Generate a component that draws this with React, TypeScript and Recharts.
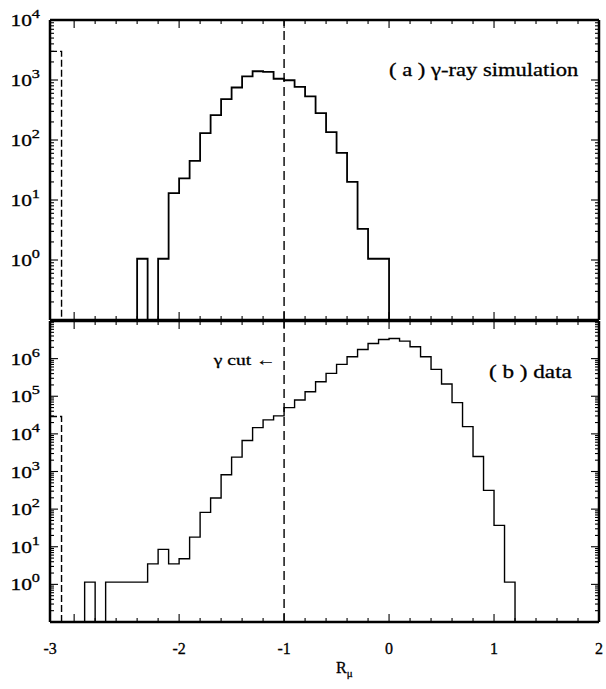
import React from 'react';
import { ComposedChart, Line, XAxis, YAxis, ReferenceLine } from 'recharts';

// ---------- data ----------
const BIN = 0.1;
const X_MIN = -3.23;
const X_MAX = 2;
const CUT = -1;
const OVERFLOW_EDGE = -3.12;

// (a) gamma-ray simulation: counts per 0.1 bin starting at simStart
const simStart = -2.4;
const simCounts = [1.05, 0, 1.05, 13, 23, 45, 130, 260, 480, 750, 1150, 1400, 1370, 1050, 990, 770, 535, 280, 135, 61, 20, 3.3, 1.05, 1.05];
const simUnderflow = 3000;

// (b) data: counts per 0.1 bin starting at dataStart
const dataStart = -2.9;
const dataCounts = [1.15, 0, 1.15, 1.15, 1.15, 1.15, 3.5, 8.5, 3.5, 4.8, 18, 82, 198, 820, 2410, 6650, 14700, 23500, 30000, 49800, 79500, 132000, 243000, 405000, 702000, 1120000, 1750000, 2520000, 3220000, 3430000, 2910000, 2060000, 1120000, 518000, 211000, 67600, 15600, 2500, 315, 37, 1.15];
const dataUnderflow = 29000;

// axes
const xMajorTicks = [-3, -2, -1, 0, 1, 2];
const xMinorSteps = [0.2, 0.4, 0.6, 0.8];
const topDecades = [0.1, 1, 10, 100, 1000, 10000];
const bottomDecades = [0.1, 1, 10, 100, 1000, 10000, 100000, 1000000, 10000000];
const minorMultiples = [2, 3, 4, 5, 6, 7, 8, 9];

const panelA = '( a ) γ-ray simulation';
const panelB = '( b ) data';
const cutLabel = 'γ cut ←';

// ---------- helpers ----------
const FLOOR = 0.1;
const FONT = '"Liberation Serif", "Times New Roman", serif';

function stepPoints(start: number, counts: number[]) {
  const pts = [{ x: start, y: FLOOR }];
  counts.forEach((c, i) => pts.push({ x: +(start + i * BIN).toFixed(2), y: c > 0 ? c : FLOOR }));
  pts.push({ x: +(start + counts.length * BIN).toFixed(2), y: FLOOR });
  return pts;
}
function underflowPoints(v: number) {
  return [
    { x: X_MIN, y: v },
    { x: OVERFLOW_EDGE, y: v },
    { x: OVERFLOW_EDGE, y: FLOOR },
  ];
}
function logTicks(decades: number[]) {
  const t: number[] = [];
  decades.forEach((d, i) => {
    t.push(d);
    if (i < decades.length - 1) minorMultiples.forEach((m) => t.push(+(d * m).toPrecision(6)));
  });
  return t;
}
const xTicks: number[] = [];
xMajorTicks.forEach((m, i) => {
  xTicks.push(m);
  if (i < xMajorTicks.length - 1) xMinorSteps.forEach((s) => xTicks.push(+(m + s).toFixed(2)));
});

const simPts = stepPoints(simStart, simCounts);
const dataPts = stepPoints(dataStart, dataCounts);
const simUnder = underflowPoints(simUnderflow);
const dataUnder = underflowPoints(dataUnderflow);

// ---------- tick components ----------
const XTick = (props: any) => {
  const { x, y, payload, side, showLabel } = props;
  const v = payload.value;
  const major = Math.abs(v - Math.round(v)) < 1e-6;
  const len = major ? 8 : 4;
  const dir = side === 'top' ? 1 : -1;
  return (
    <g>
      <line x1={x} y1={y} x2={x} y2={y + dir * len} stroke="#000" strokeWidth={1.1} />
      {showLabel && major && (
        <text
          x={x + (Math.round(v) === -3 ? -24 : 0)}
          y={y + 32}
          textAnchor="middle"
          fontFamily={FONT}
          fontSize={16}
          fill="#000"
          stroke="#000"
          strokeWidth={0.3}
        >
          {String(Math.round(v))}
        </text>
      )}
    </g>
  );
};

const YTick = (props: any) => {
  const { x, y, payload, side, labelMax } = props;
  const v = payload.value;
  const lg = Math.log10(v);
  const e = Math.round(lg);
  const major = Math.abs(lg - e) < 1e-6;
  const len = major ? 8 : 4;
  const dir = side === 'left' ? 1 : -1;
  const showLabel = side === 'left' && major && e >= 0 && e <= labelMax;
  return (
    <g>
      <line x1={x} y1={y} x2={x + dir * len} y2={y} stroke="#000" strokeWidth={1.1} />
      {showLabel && (
        <text
          transform={`translate(${x - 10},${y + 6}) scale(1.3,1)`}
          textAnchor="end"
          fontFamily={FONT}
          fontSize={16.5}
          fill="#000"
          stroke="#000"
          strokeWidth={0.3}
        >
          10
          <tspan dy={-8} fontSize={12.5}>
            {String(e)}
          </tspan>
        </text>
      )}
    </g>
  );
};

const axisStyle = { stroke: '#000', strokeWidth: 2.5 };

function Panel(props: {
  height: number;
  marginTop: number;
  bottomHeight: number;
  decades: number[];
  labelMax: number;
  pts: any[];
  under: any[];
  showXLabels: boolean;
  lineWidth: number;
}) {
  const yDomain = [props.decades[0], props.decades[props.decades.length - 1]];
  const yTicks = logTicks(props.decades);
  return (
    <ComposedChart
      width={606}
      height={props.height}
      margin={{ top: props.marginTop, right: 6, bottom: 0, left: 0 }}
    >
      <XAxis
        xAxisId="b"
        dataKey="x"
        type="number"
        orientation="bottom"
        domain={[X_MIN, X_MAX]}
        allowDataOverflow
        ticks={xTicks}
        interval={0}
        tickSize={0}
        tickMargin={0}
        tickLine={false}
        axisLine={axisStyle}
        height={props.bottomHeight}
        tick={<XTick side="bottom" showLabel={props.showXLabels} />}
      />
      <XAxis
        xAxisId="t"
        dataKey="x"
        type="number"
        orientation="top"
        domain={[X_MIN, X_MAX]}
        allowDataOverflow
        ticks={xTicks}
        interval={0}
        tickSize={0}
        tickMargin={0}
        tickLine={false}
        axisLine={axisStyle}
        height={1}
        tick={<XTick side="top" showLabel={false} />}
      />
      <YAxis
        yAxisId="l"
        type="number"
        scale="log"
        domain={yDomain}
        allowDataOverflow
        ticks={yTicks}
        interval={0}
        tickSize={0}
        tickMargin={0}
        tickLine={false}
        axisLine={axisStyle}
        width={50}
        tick={<YTick side="left" labelMax={props.labelMax} />}
      />
      <YAxis
        yAxisId="r"
        type="number"
        orientation="right"
        scale="log"
        domain={yDomain}
        allowDataOverflow
        ticks={yTicks}
        interval={0}
        tickSize={0}
        tickMargin={0}
        tickLine={false}
        axisLine={axisStyle}
        width={1}
        tick={<YTick side="right" labelMax={props.labelMax} />}
      />
      <ReferenceLine
        xAxisId="b"
        yAxisId="l"
        x={CUT}
        stroke="#000"
        strokeWidth={1.4}
        strokeDasharray="9 5"
      />
      <Line
        xAxisId="b"
        yAxisId="l"
        data={props.under}
        dataKey="y"
        type="linear"
        stroke="#000"
        strokeWidth={1.4}
        strokeDasharray="7 3"
        dot={false}
        activeDot={false}
        isAnimationActive={false}
      />
      <Line
        xAxisId="b"
        yAxisId="l"
        data={props.pts}
        dataKey="y"
        type="stepAfter"
        stroke="#000"
        strokeWidth={props.lineWidth}
        dot={false}
        activeDot={false}
        isAnimationActive={false}
      />
    </ComposedChart>
  );
}

const textBase: React.CSSProperties = {
  position: 'absolute',
  fontFamily: FONT,
  color: '#000',
  whiteSpace: 'nowrap',
  WebkitTextStroke: '0.3px #000',
};

export default function App() {
  return (
    <div
      style={{
        position: 'absolute',
        left: 0,
        top: 0,
        width: 606,
        height: 689,
        background: '#fff',
        overflow: 'hidden',
        fontFamily: FONT,
      }}
    >
      <div style={{ position: 'absolute', left: 0, top: 0 }}>
        <Panel
          height={321}
          marginTop={19}
          bottomHeight={1}
          decades={topDecades}
          labelMax={4}
          pts={simPts}
          under={simUnder}
          showXLabels={false}
          lineWidth={1.8}
        />
      </div>
      <div style={{ position: 'absolute', left: 0, top: 320 }}>
        <Panel
          height={369}
          marginTop={0}
          bottomHeight={67}
          decades={bottomDecades}
          labelMax={6}
          pts={dataPts}
          under={dataUnder}
          showXLabels={true}
          lineWidth={1.4}
        />
      </div>
      <div
        style={{
          ...textBase,
          left: 389,
          top: 61,
          fontSize: 18.5,
          lineHeight: '18.5px',
          transform: 'scaleX(1.22)',
          transformOrigin: 'left center',
        }}
      >
        {panelA}
      </div>
      <div
        style={{
          ...textBase,
          left: 489,
          top: 363,
          fontSize: 18.5,
          lineHeight: '18.5px',
          transform: 'scaleX(1.25)',
          transformOrigin: 'left center',
        }}
      >
        {panelB}
      </div>
      <div
        style={{
          ...textBase,
          right: 606 - 275,
          top: 353,
          fontSize: 15,
          lineHeight: '15px',
          transform: 'scaleX(1.3)',
          transformOrigin: 'right center',
        }}
      >
        {cutLabel}
      </div>
      <div
        style={{
          ...textBase,
          left: 336,
          top: 660,
          fontSize: 16,
          lineHeight: '16px',
        }}
      >
        R<sub style={{ fontSize: 11 }}>μ</sub>
      </div>
    </div>
  );
}
